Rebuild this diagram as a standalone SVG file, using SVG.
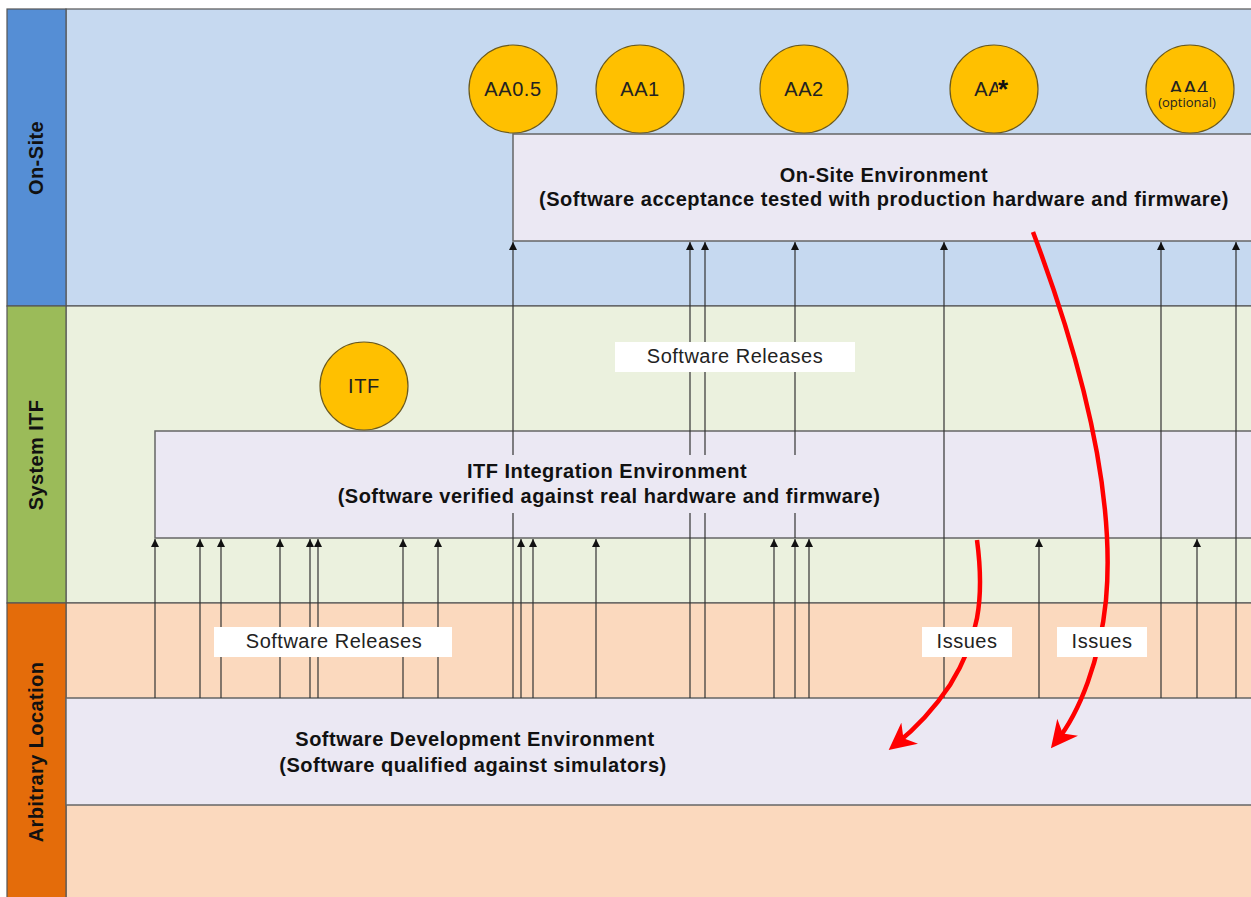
<svg xmlns="http://www.w3.org/2000/svg" width="1251" height="897" viewBox="0 0 1251 897">
<defs>
<style>
.lane{stroke:#555;stroke-width:1.2}
.hdr{font-family:"Liberation Sans",Arial,sans-serif;font-weight:bold;font-size:20px;letter-spacing:0.4px;fill:#111;text-anchor:middle}
.box{fill:#EBE8F3;stroke:#666;stroke-width:1.5}
.bt{font-family:"Liberation Sans",Arial,sans-serif;font-weight:bold;font-size:20px;letter-spacing:0.5px;fill:#111;text-anchor:middle}
.lbl{font-family:"Liberation Sans",Arial,sans-serif;font-size:20px;letter-spacing:0.5px;fill:#222;text-anchor:middle}
.circ{fill:#FFC000;stroke:#6b5a1e;stroke-width:1.2}
.ct{font-family:"Liberation Sans",Arial,sans-serif;font-size:20px;letter-spacing:0.6px;fill:#222;text-anchor:middle}
.rel{stroke:#333;stroke-width:1.2;fill:none;marker-end:url(#ah)}
.iss{stroke:#FF0000;stroke-width:4.5;fill:none;marker-end:url(#rh)}
</style>
<marker id="ah" viewBox="0 0 10 10" refX="10" refY="5" markerWidth="10" markerHeight="8" markerUnits="userSpaceOnUse" orient="auto">
<path d="M0,0 L10,5 L0,10 z" fill="#111"/>
</marker>
<marker id="rh" viewBox="0 0 10 10" refX="7" refY="5" markerWidth="27" markerHeight="28" markerUnits="userSpaceOnUse" orient="auto">
<path d="M0,0 L10,5 L0,10 L3,5 z" fill="#FF0000"/>
</marker>
</defs>

<g id="lanes">
<rect x="66" y="9" width="1190" height="297" fill="#C6D9F0" class="lane"/>
<rect x="66" y="306" width="1190" height="297" fill="#EBF1DE" class="lane"/>
<rect x="66" y="603" width="1190" height="300" fill="#FBD9BE" class="lane"/>
<rect x="7" y="9" width="59" height="297" fill="#558ED5" class="lane"/>
<rect x="7" y="306" width="59" height="297" fill="#9BBB59" class="lane"/>
<rect x="7" y="603" width="59" height="300" fill="#E46C0A" class="lane"/>
<text class="hdr" transform="translate(43,158) rotate(-90)">On-Site</text>
<text class="hdr" transform="translate(43,455) rotate(-90)">System ITF</text>
<text class="hdr" transform="translate(43,752) rotate(-90)">Arbitrary Location</text>
</g>

<g id="onsite-env">
<rect x="513" y="134" width="745" height="107" class="box"/>
<text class="bt" x="884" y="182">On-Site Environment</text>
<text class="bt" x="884" y="206">(Software acceptance tested with production hardware and firmware)</text>
</g>

<g id="itf-env">
<rect x="155" y="431" width="1103" height="107" class="box"/>
</g>

<g id="dev-env">
<rect x="66" y="698" width="1192" height="107" class="box"/>
<text class="bt" x="475" y="746">Software Development Environment</text>
<text class="bt" x="473" y="772">(Software qualified against simulators)</text>
</g>

<g id="connectors">
<line class="rel" x1="155" y1="698" x2="155" y2="539"/>
<line class="rel" x1="200" y1="698" x2="200" y2="539"/>
<line class="rel" x1="221" y1="698" x2="221" y2="539"/>
<line class="rel" x1="280" y1="698" x2="280" y2="539"/>
<line class="rel" x1="310" y1="698" x2="310" y2="539"/>
<line class="rel" x1="318" y1="698" x2="318" y2="539"/>
<line class="rel" x1="403" y1="698" x2="403" y2="539"/>
<line class="rel" x1="438" y1="698" x2="438" y2="539"/>
<line class="rel" x1="521" y1="698" x2="521" y2="539"/>
<line class="rel" x1="533" y1="698" x2="533" y2="539"/>
<line class="rel" x1="596" y1="698" x2="596" y2="539"/>
<line class="rel" x1="774" y1="698" x2="774" y2="539"/>
<line class="rel" x1="795" y1="698" x2="795" y2="539"/>
<line class="rel" x1="809" y1="698" x2="809" y2="539"/>
<line class="rel" x1="1039" y1="698" x2="1039" y2="539"/>
<line class="rel" x1="1197" y1="698" x2="1197" y2="539"/>
<line class="rel" x1="513" y1="698" x2="513" y2="242"/>
<line class="rel" x1="690" y1="698" x2="690" y2="242"/>
<line class="rel" x1="705" y1="698" x2="705" y2="242"/>
<line class="rel" x1="795" y1="538" x2="795" y2="242"/>
<line class="rel" x1="944" y1="698" x2="944" y2="242"/>
<line class="rel" x1="1161" y1="698" x2="1161" y2="242"/>
<line class="rel" x1="1236" y1="698" x2="1236" y2="242"/>
<path class="iss" d="M1033,232 C1085,370 1115,500 1106,600 C1100,660 1080,712 1056,742"/>
<path class="iss" d="M977,540 C985,600 978,640 950,685 C930,715 910,733 895,745"/>
</g>

<g id="itf-env-label">
<rect x="335" y="455" width="550" height="58" fill="#EBE8F3"/>
<text class="bt" x="607" y="478">ITF Integration Environment</text>
<text class="bt" x="609" y="503">(Software verified against real hardware and firmware)</text>
</g>

<g id="label-releases-top">
<rect x="615" y="342" width="240" height="30" fill="#FFFFFF"/>
<text class="lbl" x="735" y="363">Software Releases</text>
</g>
<g id="label-releases-bottom">
<rect x="214" y="627" width="238" height="30" fill="#FFFFFF"/>
<text class="lbl" x="334" y="648">Software Releases</text>
</g>
<g id="label-issues-1">
<rect x="922" y="627" width="90" height="30" fill="#FFFFFF"/>
<text class="lbl" x="967" y="648">Issues</text>
</g>
<g id="label-issues-2">
<rect x="1057" y="627" width="90" height="30" fill="#FFFFFF"/>
<text class="lbl" x="1102" y="648">Issues</text>
</g>

<g id="aa05"><circle cx="513" cy="89" r="44" class="circ"/><text class="ct" x="513" y="96">AA0.5</text></g>
<g id="aa1"><circle cx="640" cy="89" r="44" class="circ"/><text class="ct" x="640" y="96">AA1</text></g>
<g id="aa2"><circle cx="804" cy="89" r="44" class="circ"/><text class="ct" x="804" y="96">AA2</text></g>
<g id="aa4star"><circle cx="994" cy="89" r="44" class="circ"/><text class="ct" x="994" y="96">AA4</text>
<rect x="998" y="68" width="27" height="40" fill="#FFC000"/>
<text x="998" y="98" font-family="'Liberation Sans',Arial,sans-serif" font-weight="bold" font-size="26px" fill="#111">*</text></g>
<g id="aa4"><circle cx="1190" cy="89" r="44" class="circ"/><text class="ct" x="1189" y="95">AA4</text>
<rect x="1153" y="92" width="70" height="20" fill="#FFC000"/>
<text x="1187" y="107" text-anchor="middle" font-family="'Open Sans','Liberation Sans',sans-serif" font-size="13px" fill="#222">(optional)</text></g>
<g id="itf"><circle cx="364" cy="386" r="44" class="circ"/><text class="ct" x="364" y="393">ITF</text></g>
</svg>
